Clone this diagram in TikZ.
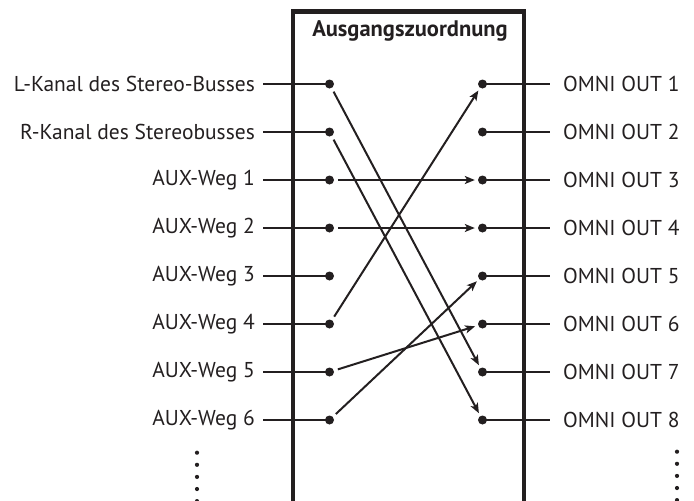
\documentclass[tikz,border=0pt]{standalone}
\usepackage{fontspec}
\setmainfont{PT Sans}
\usetikzlibrary{arrows.meta}
\definecolor{ink}{HTML}{231F20}
\begin{document}
\begin{tikzpicture}[x=1pt,y=-1pt,
  dot/.style={circle,fill=ink,inner sep=0pt,minimum size=9pt},
  smalldot/.style={circle,fill=ink,inner sep=0pt,minimum size=4.2pt},
  wire/.style={draw=ink,line width=2pt},
  conn/.style={draw=ink,line width=2pt,-{Stealth[length=10pt,width=8pt,inset=2.5pt]},shorten <=4pt,shorten >=3pt},
  frame/.style={draw=ink,line width=4.5pt},
  lab/.style={font=\fontsize{21.5}{24}\selectfont,text=ink,inner sep=0pt},
  title/.style={font=\bfseries\fontsize{22.5}{26}\selectfont,text=ink,inner sep=0pt}]
\useasboundingbox (0,0) rectangle (694,501);
% frame
\coordinate (fbl) at (293,510);
\coordinate (ftl) at (293,11.5);
\coordinate (ftr) at (524,11.5);
\coordinate (fbr) at (524,510);
\draw[frame,line join=miter] (fbl) -- (ftl) -- (ftr) -- (fbr);
\node[title] (t) at (410,31) {Ausgangszuordnung};
% left side
\foreach \i/\txt in {1/L-Kanal des Stereo-Busses,2/R-Kanal des Stereobusses,3/AUX-Weg 1,4/AUX-Weg 2,5/AUX-Weg 3,6/AUX-Weg 4,7/AUX-Weg 5,8/AUX-Weg 6}{
  \pgfmathsetmacro{\yy}{36+48*\i}
  \node[dot] (l\i) at (329.5,\yy) {};
  \coordinate (ls\i) at (263,\yy);
  \node[lab,anchor=east] (lt\i) at (255,\yy) {\txt};
  \draw[wire] (ls\i) -- (l\i.center);
}
% right side
\foreach \i in {1,...,8}{
  \pgfmathsetmacro{\yy}{36+48*\i}
  \node[dot] (r\i) at (482.5,\yy) {};
  \coordinate (re\i) at (550,\yy);
  \node[lab,anchor=west] (rt\i) at (563,\yy) {OMNI OUT \i};
  \draw[wire] (r\i.center) -- (re\i);
}
% connections
\draw[conn] (l1) -- (r7);
\draw[conn] (l2) -- (r8);
\draw[conn] (l3) -- (r3);
\draw[conn] (l4) -- (r4);
\draw[conn] (l6) -- (r1);
\draw[conn] (l7) -- (r6);
\draw[conn] (l8) -- (r5);
% continuation dots
\foreach \k in {0,...,4}{
  \node[smalldot] (ld\k) at (197,452.7+12.1*\k) {};
  \node[smalldot] (rd\k) at (677,451.7+12.1*\k) {};
}
\end{tikzpicture}
\end{document}
